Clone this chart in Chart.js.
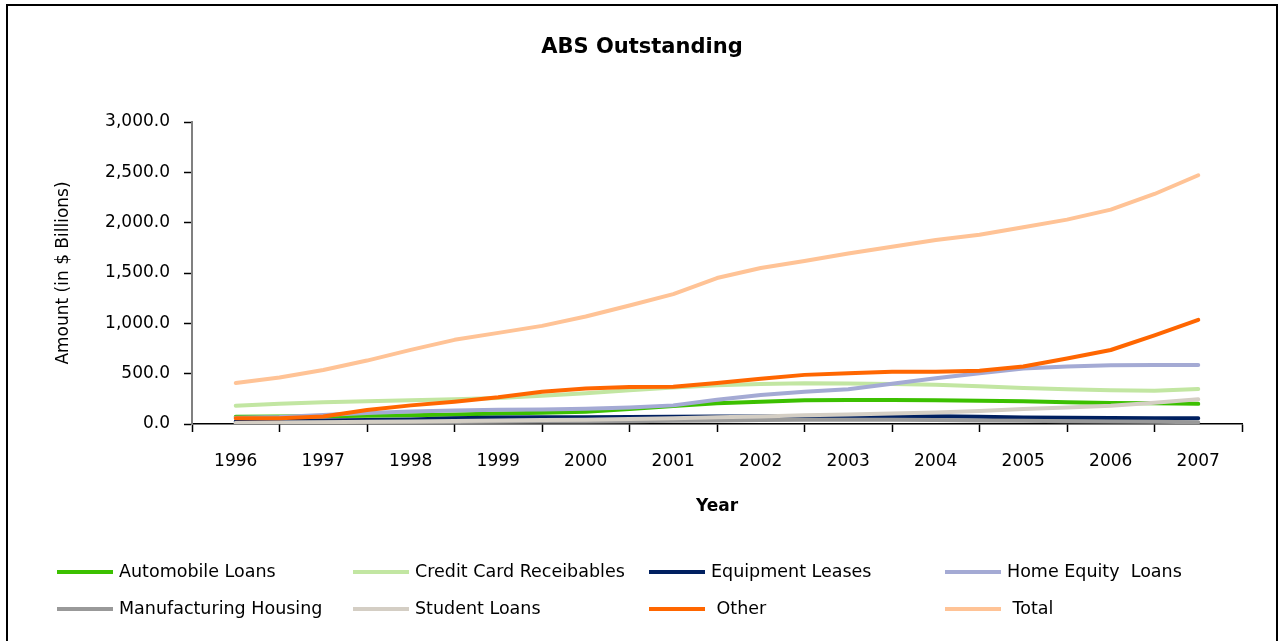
<!DOCTYPE html>
<html>
<head>
<meta charset="utf-8">
<title>ABS Outstanding</title>
<script src="https://cdn.jsdelivr.net/npm/chart.js@4.4.1/dist/chart.umd.min.js"></script>
<style>
  html, body { margin: 0; padding: 0; background: #fff; }
  #wrap { width: 1284px; height: 641px; }
</style>
</head>
<body>
<div id="wrap"><canvas id="absChart" width="1284" height="641"></canvas></div>
<script>
// year labels; series below are half-yearly, two readings per year
const years = ["1996", "1997", "1998", "1999", "2000", "2001", "2002", "2003", "2004", "2005", "2006", "2007"];

const automobileLoans      = [72, 74, 77, 82, 87, 95, 105, 112, 122, 150, 180, 205, 222, 235, 238, 238, 237, 232, 225, 215, 208, 205, 200];
const creditCardReceivables = [182, 200, 215, 226, 236, 246, 258, 280, 306, 335, 362, 385, 398, 405, 402, 398, 391, 375, 357, 345, 335, 330, 348];
const equipmentLeases      = [25, 30, 35, 40, 45, 58, 65, 67, 68, 70, 72, 74, 75, 76, 77, 78, 78, 72, 64, 62, 60, 58, 56];
const homeEquityLoans      = [62, 70, 90, 110, 124, 135, 142, 145, 152, 165, 185, 240, 287, 320, 346, 400, 454, 505, 551, 570, 583, 585, 586];
const manufacturingHousing = [10, 12, 14, 16, 18, 20, 22, 24, 26, 28, 32, 36, 40, 42, 42, 42, 40, 36, 32, 28, 25, 22, 18];
const studentLoans         = [10, 14, 18, 22, 25, 30, 36, 39, 41, 50, 58, 68, 75, 88, 95, 105, 115, 130, 150, 165, 182, 210, 245];
const otherAbs             = [57, 57, 75, 139, 185, 222, 265, 320, 352, 368, 371, 408, 450, 488, 505, 520, 520, 530, 572, 650, 735, 880, 1035];
const totalAbs             = [408, 461, 537, 630, 736, 836, 905, 975, 1068, 1177, 1290, 1450, 1549, 1620, 1694, 1760, 1828, 1880, 1955, 2030, 2130, 2285, 2471];

const seriesNames = ["Automobile Loans", "Credit Card Receibables", "Equipment Leases", "Home Equity  Loans",
                     "Manufacturing Housing", "Student Loans", " Other", " Total"];
const seriesData = [automobileLoans, creditCardReceivables, equipmentLeases, homeEquityLoans,
                    manufacturingHousing, studentLoans, otherAbs, totalAbs];
const seriesColors = ["#3cc000", "#c2e6a2", "#002060", "#a4aad4", "#999999", "#d4cec4", "#ff6600", "#ffc396"];
const chartTitle = "ABS Outstanding";

Chart.defaults.font.family = "'DejaVu Sans', sans-serif";
Chart.defaults.font.size = 17;
Chart.defaults.color = "#000";

// white page, the box round the chart (open at the bottom) and the title centred on the page
const frame = {
    id: "frame",
    beforeDraw(chart) {
        const { ctx, width, height } = chart;
        ctx.save();
        ctx.fillStyle = "#fff";
        ctx.fillRect(0, 0, width, height);
        ctx.strokeStyle = "#000";
        ctx.lineWidth = 2;
        ctx.beginPath();
        ctx.moveTo(7, height);
        ctx.lineTo(7, 5);
        ctx.lineTo(width - 7, 5);
        ctx.lineTo(width - 7, height);
        ctx.stroke();
        ctx.font = "bold 21px 'DejaVu Sans'";
        ctx.fillStyle = "#000";
        ctx.textAlign = "center";
        ctx.textBaseline = "middle";
        ctx.fillText(chartTitle, width / 2, 48);
        ctx.restore();
    }
};

// legend laid out as a fixed 4-column grid, in dataset order
const gridLegend = {
    id: "gridLegend",
    afterDraw(chart) {
        const { ctx, width } = chart;
        const cols = 4;
        const colW = (width - 100) / cols;
        const x0 = 57;
        const y0 = chart.chartArea.bottom + 148;
        const rowH = 37;
        ctx.save();
        ctx.font = "17.5px 'DejaVu Sans'";
        ctx.textBaseline = "middle";
        chart.data.datasets.forEach((ds, i) => {
            const x = x0 + (i % cols) * colW;
            const y = y0 + Math.floor(i / cols) * rowH;
            ctx.strokeStyle = ds.borderColor;
            ctx.lineWidth = 4;
            ctx.beginPath();
            ctx.moveTo(x, y);
            ctx.lineTo(x + 56, y);
            ctx.stroke();
            ctx.fillStyle = "#000";
            ctx.fillText(ds.label, x + 62, y);
        });
        ctx.restore();
    }
};

const datasets = seriesNames.map((name, i) => ({
    label: name,
    data: seriesData[i].map((v, k) => ({ x: k / 2, y: v })),
    borderColor: seriesColors[i],
    backgroundColor: seriesColors[i],
    borderWidth: 4,
    pointRadius: 0,
    tension: 0,
    fill: false,
    borderCapStyle: "round",
    borderJoinStyle: "round",
    order: seriesNames.length - i   // later series sit on top
}));

new Chart(document.getElementById("absChart"), {
    type: "line",
    data: { datasets },
    options: {
        responsive: false,
        animation: false,
        events: [],
        layout: { padding: { top: 122, right: 42, bottom: 122, left: 0 } },
        plugins: {
            legend: { display: false },
            tooltip: { enabled: false },
            title: { display: false }
        },
        scales: {
            x: {
                type: "linear",
                min: -0.5,
                max: years.length - 0.5,
                afterBuildTicks: (s) => {
                    const t = [];
                    for (let v = -0.5; v <= years.length - 0.5; v += 0.5) t.push({ value: v });
                    s.ticks = t;
                },
                afterFit: (s) => { s.height = 95; },
                ticks: {
                    autoSkip: false,
                    maxRotation: 0,
                    padding: 19,
                    font: { size: 17 },
                    callback: (v) => (Number.isInteger(v) ? years[v] : "")
                },
                grid: {
                    drawOnChartArea: false,
                    tickLength: 8,
                    tickWidth: 1.5,
                    tickColor: (ctx) => (Number.isInteger(ctx.tick.value) ? "rgba(0,0,0,0)" : "#000")
                },
                border: { color: "#000", width: 1.5 },
                title: {
                    display: true,
                    text: "Year",
                    font: { size: 17, weight: "bold" },
                    padding: { top: 0, bottom: 2 }
                }
            },
            y: {
                min: 0,
                max: 3000,
                afterFit: (s) => { s.width = 192; },
                ticks: {
                    stepSize: 500,
                    padding: 14,
                    font: { size: 17 },
                    callback: (v) => v.toLocaleString("en-US", { minimumFractionDigits: 1, maximumFractionDigits: 1 })
                },
                grid: { drawOnChartArea: false, tickLength: 8, tickColor: "#000", tickWidth: 1.5 },
                border: { color: "#808080", width: 2 },
                title: {
                    display: true,
                    text: "Amount (in $ Billions)",
                    font: { size: 17 },
                    padding: { top: 53, bottom: 0 }
                }
            }
        }
    },
    plugins: [frame, gridLegend]
});
</script>
</body>
</html>
